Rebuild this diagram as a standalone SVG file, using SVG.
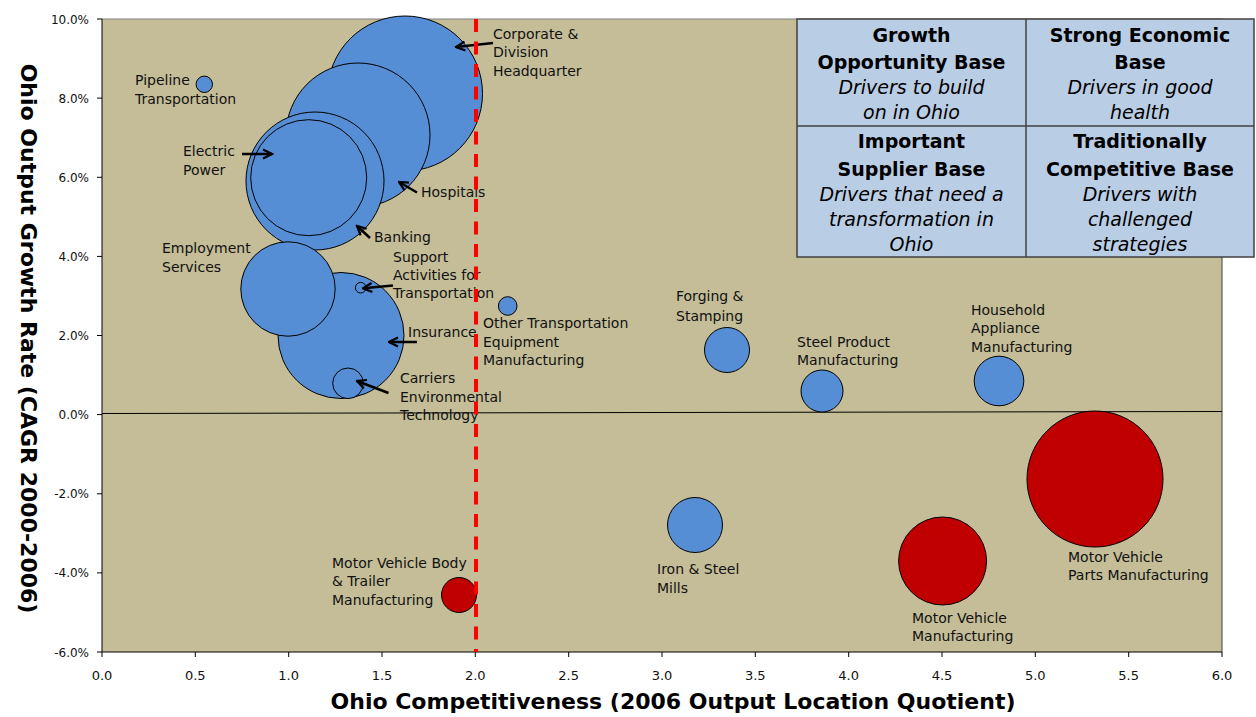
<svg xmlns="http://www.w3.org/2000/svg" width="1256" height="717" viewBox="0 0 1256 717">
<style>
.lbl{font-family:"DejaVu Sans",sans-serif;font-size:14px;fill:#111}
.tick{font-family:"DejaVu Sans",sans-serif;font-size:12px;fill:#111}
.xt{font-size:13px;text-anchor:middle}
.yt{text-anchor:end}
.title{font-family:"DejaVu Sans",sans-serif;font-size:22px;font-weight:bold;fill:#000;text-anchor:middle}
.b{fill:#558ED5;stroke:#000;stroke-width:1}
.r{fill:#C00000;stroke:#000;stroke-width:1}
.lh{font-family:"DejaVu Sans",sans-serif;font-size:19px;font-weight:bold;text-anchor:middle;fill:#000}
.li{font-family:"DejaVu Sans",sans-serif;font-size:19px;font-style:italic;text-anchor:middle;fill:#000}
.arr{stroke:#000;stroke-width:2.5;fill:none;marker-end:url(#ah)}
.tk{stroke:#000;stroke-width:1}
</style>
<defs>
<marker id="ah" viewBox="0 0 12 12" refX="10.5" refY="6" markerWidth="12" markerHeight="12" markerUnits="userSpaceOnUse" orient="auto">
<path d="M1.5,1.5 L10.5,6 L1.5,10.5" fill="none" stroke="#000" stroke-width="2.2"/>
</marker>
</defs>
<rect width="1256" height="717" fill="#fff"/>
<g id="plot-area">
<rect x="102" y="19" width="1120" height="633" fill="#C4BD97"/>
<line x1="102" y1="19" x2="1222" y2="19" stroke="#808080" stroke-width="1"/>
<line x1="1222" y1="19" x2="1222" y2="652" stroke="#595959" stroke-width="1.2"/>
<line x1="102" y1="413.5" x2="1222" y2="411.5" stroke="#000" stroke-width="1"/>
</g>
<g id="axes">
<line x1="102" y1="19" x2="102" y2="652" class="tk"/>
<line x1="102" y1="652" x2="1222" y2="652" class="tk" stroke-width="1.5"/>
<g class="tk">
<line x1="97" y1="19" x2="102" y2="19"/><line x1="97" y1="98.1" x2="102" y2="98.1"/><line x1="97" y1="177.3" x2="102" y2="177.3"/><line x1="97" y1="256.4" x2="102" y2="256.4"/><line x1="97" y1="335.5" x2="102" y2="335.5"/><line x1="97" y1="414.6" x2="102" y2="414.6"/><line x1="97" y1="493.8" x2="102" y2="493.8"/><line x1="97" y1="572.9" x2="102" y2="572.9"/><line x1="97" y1="652" x2="102" y2="652"/>
<line x1="102" y1="652" x2="102" y2="657"/><line x1="195.3" y1="652" x2="195.3" y2="657"/><line x1="288.7" y1="652" x2="288.7" y2="657"/><line x1="382" y1="652" x2="382" y2="657"/><line x1="475.3" y1="652" x2="475.3" y2="657"/><line x1="568.7" y1="652" x2="568.7" y2="657"/><line x1="662" y1="652" x2="662" y2="657"/><line x1="755.3" y1="652" x2="755.3" y2="657"/><line x1="848.7" y1="652" x2="848.7" y2="657"/><line x1="942" y1="652" x2="942" y2="657"/><line x1="1035.3" y1="652" x2="1035.3" y2="657"/><line x1="1128.7" y1="652" x2="1128.7" y2="657"/><line x1="1222" y1="652" x2="1222" y2="657"/>
</g>
<g class="tick yt">
<text x="89" y="23.5">10.0%</text><text x="89" y="102.6">8.0%</text><text x="89" y="181.8">6.0%</text><text x="89" y="260.9">4.0%</text><text x="89" y="340">2.0%</text><text x="89" y="419.1">0.0%</text><text x="89" y="498.3">-2.0%</text><text x="89" y="577.4">-4.0%</text><text x="89" y="656.5">-6.0%</text>
</g>
<g class="tick xt">
<text x="102" y="680">0.0</text><text x="195.3" y="680">0.5</text><text x="288.7" y="680">1.0</text><text x="382" y="680">1.5</text><text x="475.3" y="680">2.0</text><text x="568.7" y="680">2.5</text><text x="662" y="680">3.0</text><text x="755.3" y="680">3.5</text><text x="848.7" y="680">4.0</text><text x="942" y="680">4.5</text><text x="1035.3" y="680">5.0</text><text x="1128.7" y="680">5.5</text><text x="1222" y="680">6.0</text>
</g>
<text class="title" x="673" y="709">Ohio Competitiveness (2006 Output Location Quotient)</text>
<text class="title" transform="translate(21,338.5) rotate(90)">Ohio Output Growth Rate (CAGR 2000-2006)</text>
</g>
<g id="node-corporate"><circle class="b" cx="405" cy="93.5" r="77.5"/><text class="lbl" x="493" y="39">Corporate &amp;</text><text class="lbl" x="493" y="57.3">Division</text><text class="lbl" x="493" y="75.6">Headquarter</text></g>
<g id="node-hospitals"><circle class="b" cx="358" cy="135" r="72"/><text class="lbl" x="421" y="197">Hospitals</text></g>
<g id="node-banking"><circle class="b" cx="315" cy="181" r="69"/><text class="lbl" x="374" y="241.5">Banking</text></g>
<g id="node-mvparts"><circle class="r" cx="1095" cy="479" r="68"/><text class="lbl" x="1068" y="561.5">Motor Vehicle</text><text class="lbl" x="1068" y="579.5">Parts Manufacturing</text></g>
<g id="node-insurance"><circle class="b" cx="341" cy="335.5" r="63"/><text class="lbl" x="408" y="336.5">Insurance</text></g>
<g id="node-electric"><circle class="b" cx="308.7" cy="177.7" r="58"/><text class="lbl" x="183" y="156">Electric</text><text class="lbl" x="183" y="175">Power</text></g>
<g id="node-employment"><circle class="b" cx="288" cy="289" r="47.2"/><text class="lbl" x="162" y="252.5">Employment</text><text class="lbl" x="162" y="271.5">Services</text></g>
<g id="node-mvmfg"><circle class="r" cx="942.6" cy="561" r="44"/><text class="lbl" x="912" y="622.5">Motor Vehicle</text><text class="lbl" x="912" y="640.5">Manufacturing</text></g>
<g id="node-ironsteel"><circle class="b" cx="695" cy="525" r="27.5"/><text class="lbl" x="657" y="574">Iron &amp; Steel</text><text class="lbl" x="657" y="592.5">Mills</text></g>
<g id="node-household"><circle class="b" cx="999" cy="381" r="24.8"/><text class="lbl" x="971" y="314.5">Household</text><text class="lbl" x="971" y="333">Appliance</text><text class="lbl" x="971" y="351.5">Manufacturing</text></g>
<g id="node-forging"><circle class="b" cx="727" cy="350" r="22.5"/><text class="lbl" x="676" y="300.7">Forging &amp;</text><text class="lbl" x="676" y="320.5">Stamping</text></g>
<g id="node-steelproduct"><circle class="b" cx="822" cy="391" r="21"/><text class="lbl" x="797" y="346.7">Steel Product</text><text class="lbl" x="797" y="365">Manufacturing</text></g>
<g id="node-mvbody"><circle class="r" cx="459" cy="595" r="17.5"/><text class="lbl" x="332" y="567.5">Motor Vehicle Body</text><text class="lbl" x="332" y="586">&amp; Trailer</text><text class="lbl" x="332" y="605">Manufacturing</text></g>
<g id="node-carriers"><circle class="b" cx="348" cy="383.3" r="15.3"/><text class="lbl" x="400" y="383.3">Carriers</text><text class="lbl" x="400" y="401.7">Environmental</text><text class="lbl" x="400" y="420">Technology</text></g>
<g id="node-othertransport"><circle class="b" cx="507.7" cy="306" r="9.3"/><text class="lbl" x="483" y="328.3">Other Transportation</text><text class="lbl" x="483" y="346.7">Equipment</text><text class="lbl" x="483" y="365">Manufacturing</text></g>
<g id="node-pipeline"><circle class="b" cx="204.3" cy="84.3" r="8.2"/><text class="lbl" x="135" y="85">Pipeline</text><text class="lbl" x="135" y="104">Transportation</text></g>
<g id="node-support"><circle class="b" cx="360.7" cy="287.7" r="5.3"/><text class="lbl" x="393" y="261.7">Support</text><text class="lbl" x="393" y="279.5">Activities for</text><text class="lbl" x="393" y="297.7">Transportation</text></g>
<g id="connectors">
<line class="arr" x1="493" y1="43" x2="456" y2="47"/>
<line class="arr" x1="242" y1="154" x2="272" y2="154"/>
<line class="arr" x1="417" y1="192.5" x2="399" y2="182"/>
<line class="arr" x1="370" y1="238" x2="357" y2="226"/>
<line class="arr" x1="393" y1="285.5" x2="363" y2="288.3"/>
<line class="arr" x1="417" y1="342" x2="389" y2="342"/>
<line class="arr" x1="388.5" y1="393" x2="357" y2="381"/>
</g>
<g id="threshold">
<line x1="476" y1="19" x2="476" y2="652" stroke="#FF0000" stroke-width="4" stroke-dasharray="13 9.5"/>
</g>
<g id="legend">
<rect x="797" y="19" width="457" height="238" fill="#B9CDE5" stroke="#404040" stroke-width="1.5"/>
<line x1="1026" y1="19" x2="1026" y2="257" stroke="#404040" stroke-width="1.5"/>
<line x1="797" y1="126" x2="1254" y2="126" stroke="#404040" stroke-width="1.5"/>
<text class="lh" x="911.5" y="42">Growth</text>
<text class="lh" x="911.5" y="69">Opportunity Base</text>
<text class="li" x="911.5" y="94">Drivers to build</text>
<text class="li" x="911.5" y="119">on in Ohio</text>
<text class="lh" x="1140" y="42">Strong Economic</text>
<text class="lh" x="1140" y="69">Base</text>
<text class="li" x="1140" y="94">Drivers in good</text>
<text class="li" x="1140" y="119">health</text>
<text class="lh" x="911.5" y="147.5">Important</text>
<text class="lh" x="911.5" y="175.5">Supplier Base</text>
<text class="li" x="911.5" y="200.5">Drivers that need a</text>
<text class="li" x="911.5" y="226">transformation in</text>
<text class="li" x="911.5" y="250.5">Ohio</text>
<text class="lh" x="1140" y="147.5">Traditionally</text>
<text class="lh" x="1140" y="175.5">Competitive Base</text>
<text class="li" x="1140" y="200.5">Drivers with</text>
<text class="li" x="1140" y="226">challenged</text>
<text class="li" x="1140" y="250.5">strategies</text>
</g>
</svg>
